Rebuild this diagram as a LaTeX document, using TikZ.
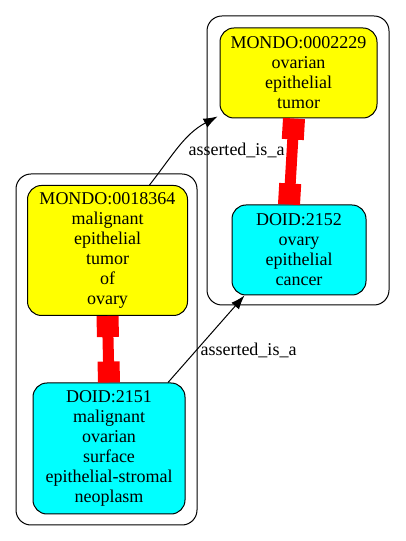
\documentclass[tikz,border=0pt]{standalone}
\usepackage{fontspec}
\setmainfont{Liberation Serif}
\usetikzlibrary{arrows.meta}
\definecolor{gvyellow}{HTML}{FFFF00}
\definecolor{gvcyan}{HTML}{00FFFF}
\definecolor{gvred}{HTML}{FF0000}
\tikzset{
  cluster/.style={draw=black, line width=1pt, rounded corners=15pt, inner sep=0pt},
  term/.style={draw=black, line width=1pt, rounded corners=14pt, inner sep=0pt, align=center,
    font=\fontsize{18}{20}\selectfont},
  mondo/.style={term, fill=gvyellow},
  doid/.style={term, fill=gvcyan},
  isa/.style={draw=black, line width=1pt, -{Latex[length=14pt,width=10pt]}},
  isalabel/.style={font=\fontsize{18}{20}\selectfont, inner sep=0pt},
  xref/.style={draw=gvred, line width=11pt,
    {Rectangle[length=21pt,width=22pt]}-{Rectangle[length=21pt,width=22pt]}}
}
\begin{document}
\begin{tikzpicture}[x=1pt,y=1pt]
\useasboundingbox (0,0) rectangle (405,541);
% clusters
\node[cluster, minimum width=181pt, minimum height=351pt] (cl) at (106.5,191.5) {};
\node[cluster, minimum width=182pt, minimum height=289pt] (cr) at (298,380.5) {};
% nodes
\node[mondo, minimum width=157pt, minimum height=90pt] (m2) at (298.5,468) {MONDO:0002229\\ovarian\\epithelial\\tumor};
\node[doid, minimum width=134pt, minimum height=90pt] (d2) at (299,291) {DOID:2152\\ovary\\epithelial\\cancer};
\node[mondo, minimum width=160pt, minimum height=130pt] (m1) at (107.5,290.5) {MONDO:0018364\\malignant\\epithelial\\tumor\\of\\ovary};
\node[doid, minimum width=152pt, minimum height=131pt] (d1) at (109,92.5) {DOID:2151\\malignant\\ovarian\\surface\\epithelial-stromal\\neoplasm};
% red equivalence edges
\draw[xref] (m1.south) -- (d1.north);
\draw[xref] ([xshift=-4.5pt]m2.south) -- ([xshift=-10pt]d2.north);
% is_a edges
\draw[isa] ([xshift=42pt]m1.north) to[out=52,in=208] ([xshift=-2pt,yshift=2pt]m2.south west);
\node[isalabel] (l1) at (236.5,391) {asserted\_is\_a};
\draw[isa] ([xshift=59pt]d1.north) -- ([xshift=13pt]d2.south west);
\node[isalabel] (l2) at (248.5,191) {asserted\_is\_a};
\end{tikzpicture}
\end{document}
